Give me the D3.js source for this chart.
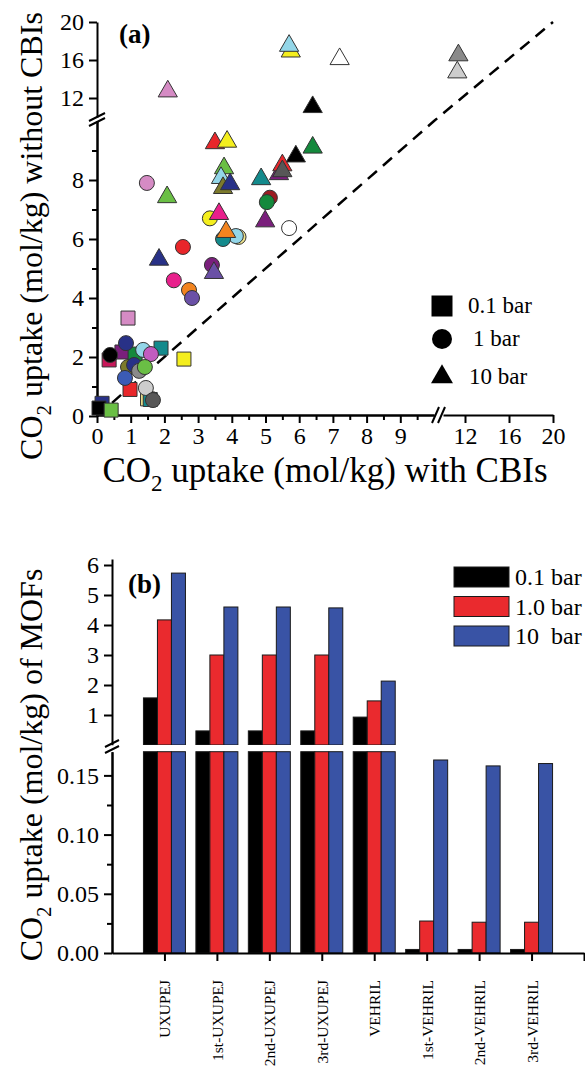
<!DOCTYPE html>
<html>
<head>
<meta charset="utf-8">
<script src="https://cdn.jsdelivr.net/npm/d3@7"></script>
<style>
body{margin:0;background:#fff;}
svg{font-family:"Liberation Serif","Times New Roman",serif;}
text{font-family:"Liberation Serif","Times New Roman",serif;fill:#000;}
.axis path,.axis line{stroke:#000;stroke-width:2;}
.axis text{font-size:24px;font-family:"Liberation Serif","Times New Roman",serif;}
</style>
</head>
<body>
<script>
//---- panel (a) data: uptake with CBIs (x) vs without CBIs (y), one array set per pressure
//mof index -> colour lookup is in mofColor below
var sqX   = [0.92, 1.90, 2.58, 0.36, 0.74, 1.13, 0.98, 1.50, 1.58, 0.15, 0.06, 0.42];
var sqY   = [3.32, 2.30, 1.93, 1.90, 2.17, 2.10, 0.90, 0.58, 0.56, 0.43, 0.27, 0.20];
var sqMof = [4, 7, 2, 21, 12, 6, 1, 22, 7, 8, 0, 5];

var ciX   = [1.48, 3.35, 4.20, 4.12, 3.74, 5.13, 5.04, 5.70, 2.55, 3.41, 2.28, 2.73, 2.82, 0.86, 0.39, 1.37, 1.60, 0.92, 1.10, 1.25, 1.42, 0.83, 1.45, 1.66];
var ciY   = [7.90, 6.70, 6.07, 6.10, 6.00, 7.40, 7.25, 6.37, 5.73, 5.12, 4.60, 4.27, 4.00, 2.47, 2.07, 2.24, 2.10, 1.66, 1.73, 1.53, 1.66, 1.29, 0.95, 0.54];
var ciMof = [4, 2, 22, 3, 7, 18, 6, 14, 1, 12, 10, 11, 13, 8, 0, 3, 20, 9, 8, 15, 5, 19, 16, 17];

var trX   = [2.10, 5.75, 5.70, 7.20, 11.4, 11.3, 6.40, 6.40, 5.40, 5.50, 5.50, 5.90, 4.87, 4.99, 3.50, 3.86, 3.77, 3.68, 3.74, 3.95, 2.08, 3.62, 3.83, 1.84, 3.47];
var trY   = [12.7, 16.9, 17.5, 16.1, 16.5, 14.7, 11.05, 9.10, 8.20, 8.50, 8.30, 8.80, 8.03, 6.60, 9.25, 9.30, 8.40, 8.07, 7.73, 7.86, 7.42, 6.85, 6.24, 5.30, 4.85];
var trMof = [4, 2, 3, 14, 15, 16, 0, 6, 12, 1, 17, 0, 7, 12, 1, 2, 5, 3, 9, 8, 5, 10, 11, 8, 13];

var aTicksXLo = [0, 1, 2, 3, 4, 5, 6, 7, 8, 9];
var aTicksXHi = [12, 16, 20];
var aTicksYLo = [0, 2, 4, 6, 8];
var aTicksYHi = [12, 16, 20];
var aLegend   = ["0.1 bar", "1 bar", "10 bar"];

//---- panel (b) data
var mofs   = ["UXUPEJ", "1st-UXUPEJ", "2nd-UXUPEJ", "3rd-UXUPEJ", "VEHRIL", "1st-VEHRIL", "2nd-VEHRIL", "3rd-VEHRIL"];
var bPress = ["0.1 bar", "1.0 bar", "10  bar"];
var upt01  = [1.57, 0.47, 0.47, 0.47, 0.93, 0.003, 0.003, 0.003];
var upt1   = [4.17, 3.00, 3.00, 3.00, 1.47, 0.027, 0.026, 0.026];
var upt10  = [5.73, 4.60, 4.60, 4.57, 2.13, 0.163, 0.158, 0.160];
var bTicksUp  = [1, 2, 3, 4, 5, 6];
var bTicksLow = [0, 0.05, 0.10, 0.15];

//colours
var mofColor = ["#000000", "#e8262a", "#f4ee1e", "#93d6e8", "#d58bc4", "#6abf45", "#14893c", "#138a8c",
                "#283187", "#7c7a2c", "#e8208c", "#f2841f", "#7a1f7c", "#6a50a6", "#ffffff", "#8a8a8a",
                "#cdcdcd", "#575757", "#9c1c22", "#3b5bb5", "#c25cbf", "#c8185a", "#efe48e"];
var barColor = ["#000000", "#ea2a2e", "#3953a5"];

var svg = d3.select("body").append("svg")
    .attr("width", 585)
    .attr("height", 1070);

//================= panel (a) =================
var xLo = d3.scaleLinear().domain([0, 10]).range([97, 434]);
var xHi = d3.scaleLinear().domain([10, 20]).range([443, 553]);
var yLo = d3.scaleLinear().domain([0, 10]).range([416, 121]);
var yHi = d3.scaleLinear().domain([10, 20]).range([117, 22]);
function px(v){ return v <= 10 ? xLo(v) : xHi(v); }
function py(v){ return v <= 10 ? yLo(v) : yHi(v); }

var gA = svg.append("g");

//x axis, lower part + minor ticks
gA.append("g").attr("class", "axis").attr("transform", "translate(0,415)")
    .call(d3.axisBottom(xLo).tickValues(aTicksXLo).tickSize(8).tickSizeOuter(0).tickPadding(4));
gA.append("g").attr("class", "axis").attr("transform", "translate(0,415)")
    .call(d3.axisBottom(xLo).tickValues(d3.range(0.5, 10, 1)).tickSize(5).tickSizeOuter(0).tickFormat(""));
gA.append("g").attr("class", "axis").attr("transform", "translate(0,415)")
    .call(d3.axisBottom(xHi).tickValues(aTicksXHi).tickSize(8).tickSizeOuter(0).tickPadding(4));

//y axis
gA.append("g").attr("class", "axis").attr("transform", "translate(97,0)")
    .call(d3.axisLeft(yLo).tickValues(aTicksYLo).tickSize(8).tickSizeOuter(0).tickPadding(5));
gA.append("g").attr("class", "axis").attr("transform", "translate(97,0)")
    .call(d3.axisLeft(yLo).tickValues([1, 3, 5, 7, 9]).tickSize(5).tickSizeOuter(0).tickFormat(""));
gA.append("g").attr("class", "axis").attr("transform", "translate(97,0)")
    .call(d3.axisLeft(yHi).tickValues(aTicksYHi).tickSize(8).tickSizeOuter(0).tickPadding(5));

//break marks
function brk(g, x1, y1, x2, y2){
    g.append("line").attr("x1", x1).attr("y1", y1).attr("x2", x2).attr("y2", y2)
        .style("stroke", "#000").style("stroke-width", 2);
}
brk(gA, 432, 423, 439, 407);
brk(gA, 438, 423, 445, 407);
brk(gA, 89, 121, 105, 113);
brk(gA, 89, 126, 105, 118);

//y = x dashed line
var diag = [0, 10, 20];
gA.append("path")
    .datum(diag)
    .attr("d", d3.line().x(function(d){ return px(d); }).y(function(d){ return py(d); }))
    .style("fill", "none")
    .style("stroke", "#000")
    .style("stroke-width", 2.5)
    .style("stroke-dasharray", "12,8");

//markers
function drawSet(xs, ys, ms, type, size){
    var sym = d3.symbol().type(type).size(size);
    gA.append("g").selectAll("path")
        .data(xs)
        .enter()
        .append("path")
        .attr("d", sym)
        .attr("transform", function(d, i){ return "translate(" + px(d) + "," + py(ys[i]) + ")"; })
        .style("fill", function(d, i){ return mofColor[ms[i]]; })
        .style("stroke", "#333")
        .style("stroke-width", 1);
}
drawSet(sqX, sqY, sqMof, d3.symbolSquare, 196);
drawSet(ciX, ciY, ciMof, d3.symbolCircle, 177);
drawSet(trX, trY, trMof, d3.symbolTriangle, 160);

//legend (a)
var legTypes = [d3.symbolSquare, d3.symbolCircle, d3.symbolTriangle];
var legSizes = [441, 314, 209];
var legY = [306, 339, 377];
var legTx = [468, 473, 469];
aLegend.forEach(function(t, i){
    gA.append("path")
        .attr("d", d3.symbol().type(legTypes[i]).size(legSizes[i]))
        .attr("transform", "translate(442," + legY[i] + ")")
        .style("fill", "#000");
    gA.append("text")
        .attr("x", legTx[i])
        .attr("y", legY[i] + 7)
        .style("font-size", "23px")
        .text(t);
});

//panel label
gA.append("text").attr("x", 119).attr("y", 43)
    .style("font-size", "27px").style("font-weight", "bold").text("(a)");

//axis titles
function co2Title(g, text, x, y, rotate, fs){
    var t = g.append("text")
        .attr("text-anchor", "middle")
        .attr("transform", "translate(" + x + "," + y + ")" + (rotate ? " rotate(-90)" : ""))
        .style("font-size", fs + "px");
    t.append("tspan").text("CO");
    t.append("tspan").attr("dy", 9).style("font-size", Math.round(fs * 0.65) + "px").text("2");
    t.append("tspan").attr("dy", -9).text(" " + text);
}
co2Title(gA, "uptake (mol/kg) with CBIs", 325, 482, false, 35);
co2Title(gA, "uptake (mol/kg) without CBIs", 42, 236, true, 32);

//================= panel (b) =================
var gB = svg.append("g");
var xB = d3.scaleLinear().domain([0, 9]).range([112, 584]);
var yUp = d3.scaleLinear().domain([0, 6.2]).range([745, 559]);
var yLow = d3.scaleLinear().domain([0, 0.17]).range([953, 751.7]);
var lowCap = 0.17;

var series = [upt01, upt1, upt10];
var barW = 14;
series.forEach(function(vals, s){
    var off = (s - 1.5) * barW;
    var rows = vals.map(function(v, i){ return {i: i, v: v}; });
    //lower segment
    gB.append("g").selectAll("rect")
        .data(rows)
        .enter()
        .append("rect")
        .attr("x", function(d){ return xB(d.i + 1) + off; })
        .attr("width", barW)
        .attr("y", function(d){ return yLow(Math.min(d.v, lowCap)); })
        .attr("height", function(d){ return yLow(0) - yLow(Math.min(d.v, lowCap)); })
        .style("fill", barColor[s])
        .style("stroke", "#1a1a1a")
        .style("stroke-width", 1);
    //upper segment, only for values above the break
    gB.append("g").selectAll("rect")
        .data(rows.filter(function(d){ return d.v > lowCap; }))
        .enter()
        .append("rect")
        .attr("x", function(d){ return xB(d.i + 1) + off; })
        .attr("width", barW)
        .attr("y", function(d){ return yUp(d.v); })
        .attr("height", function(d){ return yUp(0) - yUp(d.v); })
        .style("fill", barColor[s])
        .style("stroke", "#1a1a1a")
        .style("stroke-width", 1);
});

//white gap through the bars
gB.append("rect").attr("x", 114).attr("y", 745).attr("width", 300).attr("height", 6)
    .style("fill", "#fff");

//axes
gB.append("g").attr("class", "axis").attr("transform", "translate(0,953)")
    .call(d3.axisBottom(xB).tickValues(d3.range(1, 10)).tickSize(8).tickSizeOuter(0).tickFormat(""));
gB.append("g").attr("class", "axis").attr("transform", "translate(112,0)")
    .call(d3.axisLeft(yUp).tickValues(bTicksUp).tickSize(8).tickSizeOuter(0).tickPadding(5)
        .tickFormat(d3.format("d")));
gB.append("g").attr("class", "axis").attr("transform", "translate(112,0)")
    .call(d3.axisLeft(yLow).tickValues(bTicksLow).tickSize(8).tickSizeOuter(0).tickPadding(5)
        .tickFormat(d3.format(".2f")));
gB.append("g").attr("class", "axis").attr("transform", "translate(112,0)")
    .call(d3.axisLeft(yLow).tickValues([0.025, 0.075, 0.125]).tickSize(5).tickSizeOuter(0).tickFormat(""));
gB.append("rect").attr("x", 100).attr("y", 745.5).attr("width", 20).attr("height", 5.5).style("fill", "#fff");
brk(gB, 105, 747, 119, 740);
brk(gB, 105, 753, 119, 746);

//category labels
gB.selectAll(".cat")
    .data(mofs)
    .enter()
    .append("text")
    .attr("class", "cat")
    .attr("text-anchor", "end")
    .attr("transform", function(d, i){ return "translate(" + (xB(i + 1) + 6) + ",980) rotate(-90)"; })
    .style("font-size", "15.5px")
    .text(function(d){ return d; });

//legend (b)
bPress.forEach(function(t, i){
    var y = 567 + i * 29.5;
    gB.append("rect").attr("x", 454).attr("y", y).attr("width", 55).attr("height", 20)
        .style("fill", barColor[i]).style("stroke", "#1a1a1a").style("stroke-width", 1);
    gB.append("text").attr("x", 515).attr("y", y + 18)
        .style("font-size", "24px").style("white-space", "pre").text(t);
});

gB.append("text").attr("x", 128).attr("y", 593)
    .style("font-size", "27px").style("font-weight", "bold").text("(b)");

co2Title(gB, "uptake (mol/kg) of MOFs", 42, 765, true, 32);
</script>
</body>
</html>
